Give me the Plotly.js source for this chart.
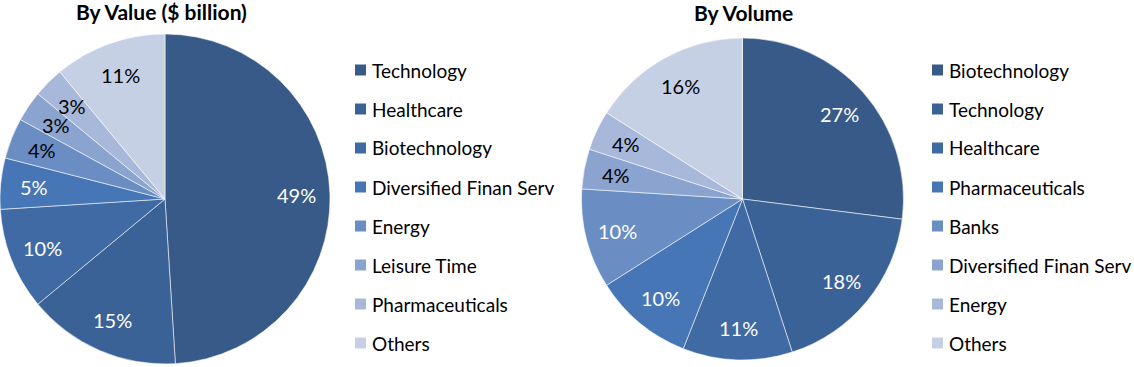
<!DOCTYPE html>
<html><head><meta charset="utf-8">
<script src="https://cdn.plot.ly/plotly-3.0.1.min.js"></script>
<style>html,body{margin:0;padding:0;background:#fff}#chart{width:1134px;height:367px}</style>
</head><body><div id="chart"></div>
<script>
// ---- data ----
var valueTitle = "By Value ($ billion)";
var valueLabels = ["Technology","Healthcare","Biotechnology","Diversified Finan Serv","Energy","Leisure Time","Pharmaceuticals","Others"];
var valueShares = [49,15,10,5,4,3,3,11];

var volumeTitle = "By Volume";
var volumeLabels = ["Biotechnology","Technology","Healthcare","Pharmaceuticals","Banks","Diversified Finan Serv","Energy","Others"];
var volumeShares = [27,18,11,10,10,4,4,16];

// ---- style ----
var W = 1134, H = 367;
var palette = ["#375A88","#3B6297","#3F6AA4","#4676B6","#6A8DC4","#8BA3CF","#A7B8DA","#C6D0E4"];
var leftTextColors = ["#fff","#fff","#fff","#fff","#000","#000","#000","#000"];
var rightTextColors = ["#fff","#fff","#fff","#fff","#fff","#000","#000","#000"];
var FONT = "Lato, 'Open Sans', sans-serif";

function dom(cx, cy, r){
  return {x:[(cx-r)/W,(cx+r)/W], y:[(H-cy-r)/H,(H-cy+r)/H]};
}
var leftPie = {cx:165, cy:199, r:165};
var rightPie = {cx:742.5, cy:199, r:161};

function pieTrace(labels, values, p){
  return {
    type:"pie", labels:labels, values:values, sort:false, direction:"clockwise", rotation:0,
    marker:{colors:palette, line:{color:"rgba(255,255,255,0.55)", width:1}},
    textinfo:"none", hoverinfo:"label+percent", showlegend:false,
    domain:dom(p.cx,p.cy,p.r)
  };
}

var annotations = [], shapes = [];
function pctLabels(values, p, colors){
  var total = values.reduce(function(a,b){return a+b;},0), cum = 0;
  values.forEach(function(v,i){
    var mid = (cum + v/2)/total; cum += v;
    var ang = mid*2*Math.PI, rr = 0.8*p.r;
    var x = p.cx + rr*Math.sin(ang), y = p.cy - rr*Math.cos(ang);
    annotations.push({xref:"paper",yref:"paper",x:x/W,y:1-y/H,xanchor:"center",yanchor:"middle",
      showarrow:false,text:Math.round(v/total*100)+"%",font:{family:FONT,size:20,color:colors[i]}});
  });
}
function legend(labels, x0, y0, step){
  labels.forEach(function(l,i){
    var yc = y0 + i*step;
    shapes.push({type:"rect",xref:"paper",yref:"paper",x0:x0/W,x1:(x0+11)/W,y0:1-(yc+5.5)/H,y1:1-(yc-5.5)/H,
      fillcolor:palette[i],line:{width:0}});
    annotations.push({xref:"paper",yref:"paper",x:(x0+15)/W,y:1-yc/H,xanchor:"left",yanchor:"middle",
      showarrow:false,text:l,font:{family:FONT,size:19,color:"#000"}});
  });
}
function title(t, x, y){
  annotations.push({xref:"paper",yref:"paper",x:x/W,y:1-y/H,xanchor:"center",yanchor:"middle",
    showarrow:false,text:"<b>"+t+"</b>",font:{family:FONT,size:21,color:"#000"}});
}

pctLabels(valueShares, leftPie, leftTextColors);
pctLabels(volumeShares, rightPie, rightTextColors);
legend(valueLabels, 355, 70, 39);
legend(volumeLabels, 932, 70, 39);
title(valueTitle, 161, 11);
title(volumeTitle, 743, 12);

Plotly.newPlot("chart",[pieTrace(valueLabels,valueShares,leftPie),pieTrace(volumeLabels,volumeShares,rightPie)],{
  width:W,height:H,margin:{l:0,r:0,t:0,b:0},paper_bgcolor:"#fff",plot_bgcolor:"#fff",
  showlegend:false,annotations:annotations,shapes:shapes,font:{family:FONT}
},{displayModeBar:false,staticPlot:true});
</script></body></html>
